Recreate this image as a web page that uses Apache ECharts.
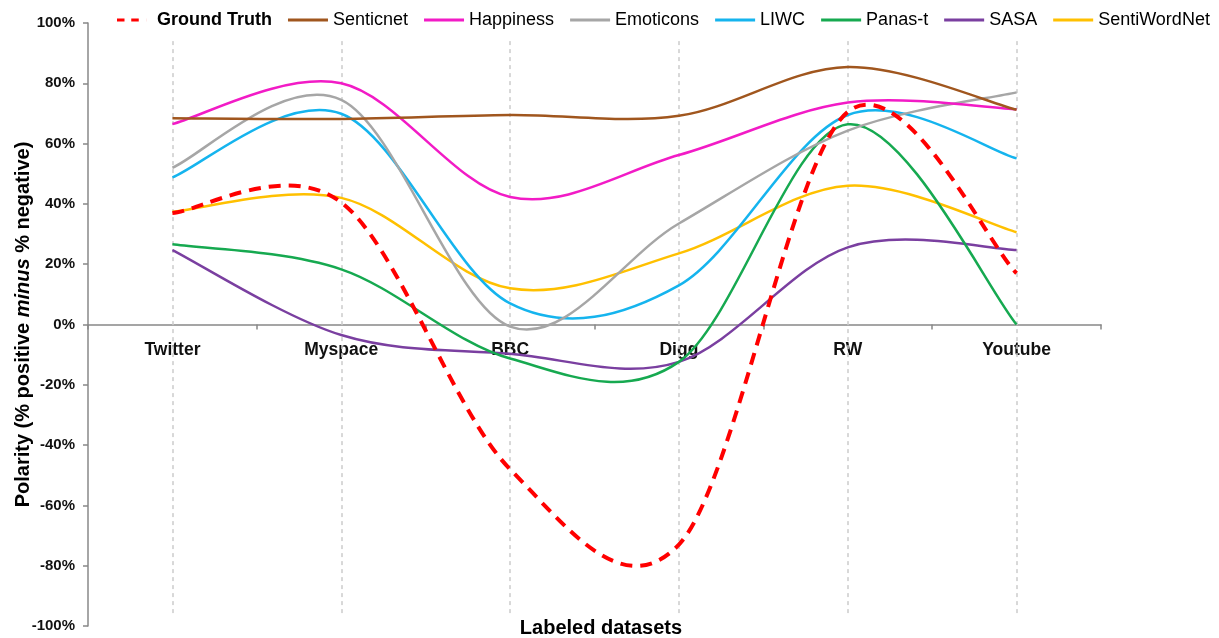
<!DOCTYPE html>
<html>
<head>
<meta charset="utf-8">
<script src="https://cdn.jsdelivr.net/npm/echarts@6/dist/echarts.min.js"></script>
<style>html,body{margin:0;padding:0;background:#fff;}#c{width:1219px;height:638px;}</style>
</head>
<body>
<div id="c"></div>
<script>
const categories = ['Twitter', 'Myspace', 'BBC', 'Digg', 'RW', 'Youtube'];
const groundTruth = [37, 40.5, -48, -73, 70.5, 17];
const senticnet = [68.4, 68.2, 69.5, 69.2, 85.4, 71.2];
const happiness = [66.5, 80, 42.3, 56.2, 73.6, 71.4];
const emoticons = [52, 74.5, -0.7, 33.5, 64.3, 77];
const liwc = [48.8, 69.9, 7, 13, 69.5, 55.1];
const panast = [26.6, 18.3, -11.3, -12.4, 66.4, 0];
const sasa = [24.7, -3.5, -9.7, -12.4, 25.6, 24.7];
const sentiwordnet = [37.4, 42, 12, 23.6, 46, 30.6];
const yTicks = { min: -100, max: 100, interval: 20 };

const seriesDefs = [
  { name: 'Ground Truth', data: groundTruth, color: '#FF0000', width: 4, dash: [12, 8] },
  { name: 'Senticnet', data: senticnet, color: '#A0561E', width: 2.5 },
  { name: 'Happiness', data: happiness, color: '#F21BC6', width: 2.5 },
  { name: 'Emoticons', data: emoticons, color: '#A6A6A6', width: 2.5 },
  { name: 'LIWC', data: liwc, color: '#15B4EE', width: 2.5 },
  { name: 'Panas-t', data: panast, color: '#16A950', width: 2.5 },
  { name: 'SASA', data: sasa, color: '#7A3FA0', width: 2.5 },
  { name: 'SentiWordNet', data: sentiwordnet, color: '#FFC000', width: 2.5 }
];

const font = 'Liberation Sans, Arial, sans-serif';

// Smoothed (Catmull-Rom style) curve through the data points, positioned by the axes via api.coord
function splineSeries(d) {
  return {
    name: d.name,
    type: 'custom',
    coordinateSystem: 'cartesian2d',
    data: d.data.map((v, i) => [i, v]),
    encode: { x: 0, y: 1 },
    z: 3,
    silent: true,
    itemStyle: { color: d.color },
    renderItem: function (params, api) {
      if (params.dataIndex !== 0) return null;
      const pts = d.data.map((v, i) => api.coord([i, v]));
      let path = 'M' + pts[0][0] + ',' + pts[0][1];
      for (let i = 0; i < pts.length - 1; i++) {
        const p0 = pts[i - 1] || pts[i];
        const p1 = pts[i];
        const p2 = pts[i + 1];
        const p3 = pts[i + 2] || pts[i + 1];
        const c1x = p1[0] + (p2[0] - p0[0]) / 6, c1y = p1[1] + (p2[1] - p0[1]) / 6;
        const c2x = p2[0] - (p3[0] - p1[0]) / 6, c2y = p2[1] - (p3[1] - p1[1]) / 6;
        path += ' C' + c1x + ',' + c1y + ' ' + c2x + ',' + c2y + ' ' + p2[0] + ',' + p2[1];
      }
      return {
        type: 'path',
        shape: { pathData: path },
        style: { fill: null, stroke: d.color, lineWidth: d.width, lineDash: d.dash || null, lineCap: 'butt', lineJoin: 'round' }
      };
    }
  };
}

const series = seriesDefs.slice().reverse().map(splineSeries);
series.push({
  name: 'guides',
  type: 'line',
  data: [],
  z: 1,
  markLine: {
    silent: true,
    symbol: 'none',
    z: 1,
    label: { show: false },
    lineStyle: { color: '#CCCCCC', width: 1.5, type: [4, 4] },
    data: categories.map(c => [{ coord: [c, 94] }, { coord: [c, -97] }])
  }
});

const gridTop = 23, gridBottom = 12, H = 638;
const zeroOffset = -(H - gridTop - gridBottom) / 2;
const dashedIcon = 'path://M0,0h10v4h-10z M19,0h10v4h-10z M39.9,0h0.1v4h-0.1z';

const chart = echarts.init(document.getElementById('c'));
chart.setOption({
  animation: false,
  backgroundColor: '#fff',
  textStyle: { fontFamily: font },
  title: {
    text: 'Labeled datasets',
    left: 596, top: 613,
    textAlign: 'center',
    textStyle: { fontFamily: font, fontSize: 20, fontWeight: 'bold', color: '#000' }
  },
  legend: {
    left: 112, top: 6, width: 1110,
    itemWidth: 40, itemHeight: 3, itemGap: 16,
    textStyle: { fontFamily: font, fontSize: 18, color: '#000' },
    data: seriesDefs.map((d, i) => i === 0
      ? { name: d.name, icon: dashedIcon, textStyle: { fontWeight: 'bold' } }
      : { name: d.name, icon: 'rect' })
  },
  grid: { left: 88, right: 118, top: gridTop, bottom: gridBottom, containLabel: false, outerBoundsMode: 'none' },
  xAxis: {
    type: 'category',
    data: categories,
    boundaryGap: true,
    position: 'bottom',
    offset: zeroOffset,
    axisLine: { onZero: false, lineStyle: { color: '#888', width: 1.5 } },
    axisTick: { show: true, length: 5, lineStyle: { color: '#888', width: 1.5 } },
    axisLabel: { margin: 17, fontFamily: font, fontSize: 17.5, fontWeight: 'bold', color: '#111' },
    splitLine: { show: false }
  },
  yAxis: {
    type: 'value',
    min: yTicks.min, max: yTicks.max, interval: yTicks.interval,
    name: '{b|Polarity (% positive }{i|minus}{b| % negative)}',
    nameLocation: 'middle',
    nameGap: 55,
    nameMoveOverlap: false,
    nameRotate: 90,
    nameTextStyle: {
      rich: {
        b: { fontFamily: font, fontSize: 20, fontWeight: 'bold', color: '#000' },
        i: { fontFamily: font, fontSize: 20, fontWeight: 'bold', fontStyle: 'italic', color: '#000' }
      }
    },
    axisLine: { show: true, lineStyle: { color: '#888', width: 1.5 } },
    axisTick: { show: true, length: 5, lineStyle: { color: '#888', width: 1.5 } },
    axisLabel: { margin: 13, fontFamily: font, fontSize: 15, fontWeight: 'bold', color: '#111', formatter: '{value}%' },
    splitLine: { show: false }
  },
  series: series
});
</script>
</body>
</html>
